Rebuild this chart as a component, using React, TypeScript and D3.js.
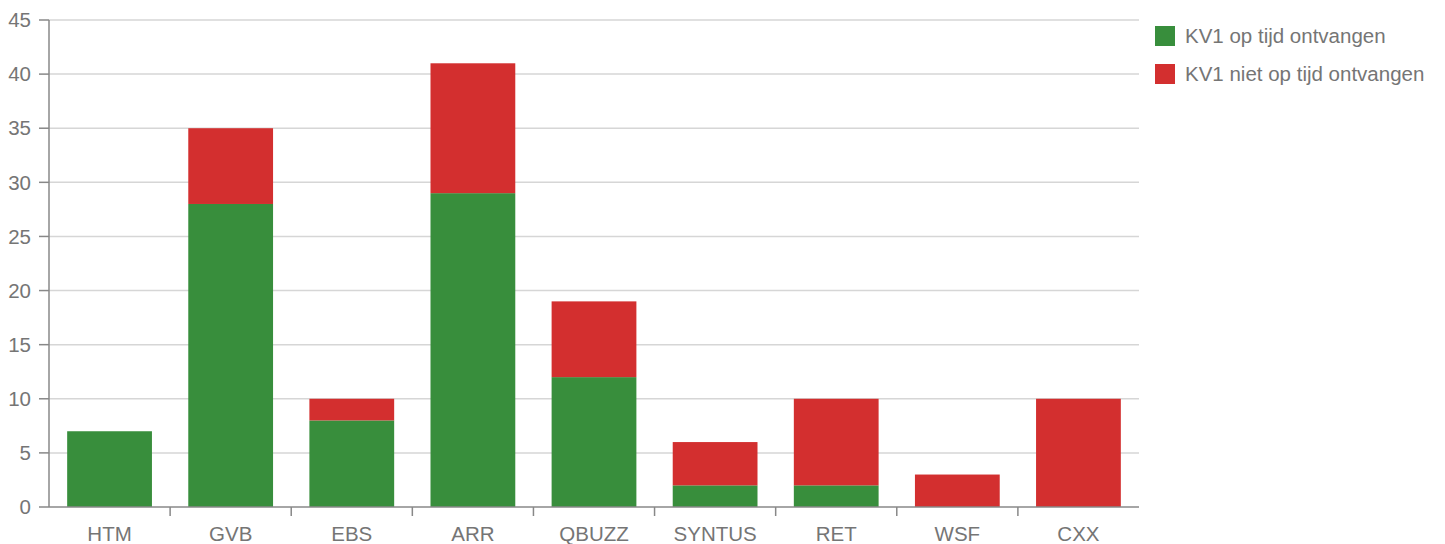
import React from "react";
import * as d3 from "d3";

const categories = ["HTM", "GVB", "EBS", "ARR", "QBUZZ", "SYNTUS", "RET", "WSF", "CXX"];
const onTime = [7, 28, 8, 29, 12, 2, 2, 0, 0];
const notOnTime = [0, 7, 2, 12, 7, 4, 8, 3, 10];
const seriesNames = ["KV1 op tijd ontvangen", "KV1 niet op tijd ontvangen"];
const seriesColors = ["#388E3C", "#D32F2F"];
const yTicks = [0, 5, 10, 15, 20, 25, 30, 35, 40, 45];

export default function App() {
  const W = 1445, H = 544;
  const left = 49, right = 1139, top = 20, bottom = 507;
  const x = d3.scaleBand<string>().domain(categories).range([left, right]).paddingInner(0.3).paddingOuter(0.15);
  const y = d3.scaleLinear().domain([0, 45]).range([bottom, top]);
  const rows = categories.map((c, i) => ({ cat: c, onTime: onTime[i], notOnTime: notOnTime[i] }));
  const stacked = d3.stack<any>().keys(["onTime", "notOnTime"])(rows);
  const step = (right - left) / categories.length;
  const font = "'Liberation Sans', Arial, sans-serif";
  const textColor = "#757575";
  const fs = 20.5;
  return (
    <svg width={W} height={H} style={{ position: "absolute", left: 0, top: 0, fontFamily: font }}>
      {yTicks.map((t) => (
        <g key={t}>
          {t > 0 && <line x1={left} x2={right} y1={y(t)} y2={y(t)} stroke="#d6d6d6" strokeWidth={1.5} />}
          <line x1={left - 10} x2={left} y1={y(t)} y2={y(t)} stroke="#888" strokeWidth={1.5} />
          <text x={left - 18} y={y(t)} dy="0.35em" textAnchor="end" fontSize={fs} fill={textColor}>{t}</text>
        </g>
      ))}
      {stacked.map((s, si) => (
        <g key={si} fill={seriesColors[si]}>
          {s.map((d, i) => {
            const h = y(d[0]) - y(d[1]);
            if (h <= 0) return null;
            return <rect key={i} x={x(categories[i])} width={x.bandwidth()} y={y(d[1])} height={h} />;
          })}
        </g>
      ))}
      <line x1={left} x2={left} y1={top} y2={bottom} stroke="#888" strokeWidth={1.5} />
      <line x1={left} x2={right} y1={bottom} y2={bottom} stroke="#888" strokeWidth={1.5} />
      {categories.map((c, i) => (
        <g key={c}>
          {i > 0 && <line x1={left + step * i} x2={left + step * i} y1={bottom} y2={bottom + 9} stroke="#888" strokeWidth={1.5} />}
          <text x={(x(c) as number) + x.bandwidth() / 2} y={534} dy="0.35em" textAnchor="middle" fontSize={fs} fill={textColor}>{c}</text>
        </g>
      ))}
      {seriesNames.map((n, i) => (
        <g key={n} transform={`translate(1155, ${26 + i * 38})`}>
          <rect width={20} height={20} fill={seriesColors[i]} />
          <text x={30} y={10} dy="0.35em" fontSize={fs} fill={textColor}>{n}</text>
        </g>
      ))}
    </svg>
  );
}
